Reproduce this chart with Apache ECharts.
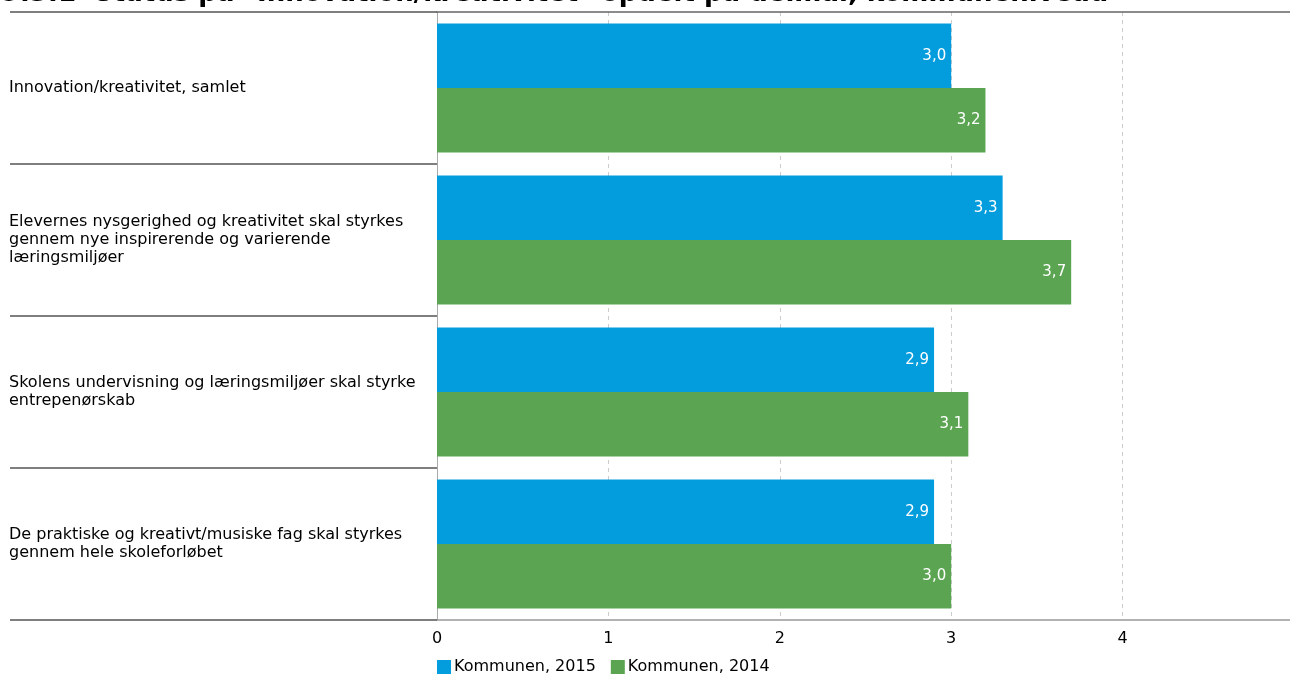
<!DOCTYPE html>
<html><head><meta charset="utf-8">
<script src="https://cdn.jsdelivr.net/npm/echarts@6/dist/echarts.min.js"></script>
<style>html,body{margin:0;padding:0;background:#fff}#c{width:1290px;height:675px}</style>
</head><body><div id="c"></div>
<script>
const titleText = '9.3.1  Status på "Innovation/kreativitet" opdelt på delmål, kommuneniveau';
const categories = [
  'Innovation/kreativitet, samlet',
  'Elevernes nysgerighed og kreativitet skal styrkes\ngennem nye inspirerende og varierende\nlæringsmiljøer',
  'Skolens undervisning og læringsmiljøer skal styrke\nentrepenørskab',
  'De praktiske og kreativt/musiske fag skal styrkes\ngennem hele skoleforløbet'
];
const seriesNames = ['Kommunen, 2015', 'Kommunen, 2014'];
const values2015 = [3.0, 3.3, 2.9, 2.9];
const values2014 = [3.2, 3.7, 3.1, 3.0];
const xTicks = [0, 1, 2, 3, 4, 5];

const FONT = '"DejaVu Sans", Verdana, sans-serif';
const chart = echarts.init(document.getElementById('c'), null, {renderer: 'canvas'});
const lbl = {
  show: true, position: 'insideRight', distance: 5, color: '#fff',
  fontSize: 15, fontFamily: FONT, padding: [3, 0, 0, 0],
  formatter: p => p.value.toFixed(1).replace('.', ',')
};
chart.setOption({
  animation: false,
  title: {
    text: titleText, left: -3, top: -24,
    textStyle: {fontFamily: FONT, fontWeight: 'bold', fontSize: 26, color: '#000'}
  },
  legend: {
    left: 437, top: 659, padding: 0, itemWidth: 14, itemHeight: 14, itemGap: 15,
    icon: 'rect', data: seriesNames,
    textStyle: {fontFamily: FONT, fontSize: 16, color: '#000', padding: [0, 0, 0, -2]}
  },
  grid: {left: 437, top: 12, width: 857, height: 608, containLabel: false, outerBoundsMode: 'none'},
  xAxis: [{
    type: 'value', min: 0, max: 5, interval: 1, position: 'bottom',
    axisLine: {show: true, lineStyle: {color: '#999', width: 1.5}},
    axisTick: {show: false},
    axisLabel: {
      color: '#000', fontFamily: FONT, fontSize: 16, margin: 11,
      showMaxLabel: true, showMinLabel: true, hideOverlap: false,
      formatter: v => xTicks.includes(v) ? String(v) : ''
    },
    splitLine: {show: true, lineStyle: {color: '#ccc', type: [4, 4], width: 1}}
  }, {
    type: 'value', min: 0, max: 5, position: 'top',
    axisLine: {show: true, lineStyle: {color: '#666', width: 1.5}},
    axisTick: {show: false}, axisLabel: {show: false}, splitLine: {show: false}
  }],
  yAxis: {
    type: 'category', data: categories, inverse: true,
    axisLine: {show: true, lineStyle: {color: '#aaa', width: 1}},
    axisTick: {show: true, length: 427, lineStyle: {color: '#555', width: 1.5}},
    axisLabel: {
      align: 'left', margin: 428, color: '#000', fontFamily: FONT, fontSize: 16,
      lineHeight: 18, padding: [3, 0, 0, 0]
    },
    splitLine: {show: false}
  },
  series: [{
    name: seriesNames[0], type: 'bar', data: values2015,
    itemStyle: {color: '#039cdd'}, barGap: '0%', barCategoryGap: '15%', label: lbl
  }, {
    name: seriesNames[1], type: 'bar', data: values2014,
    itemStyle: {color: '#5ba552'}, barGap: '0%', barCategoryGap: '15%', label: lbl
  }]
});
</script></body></html>
